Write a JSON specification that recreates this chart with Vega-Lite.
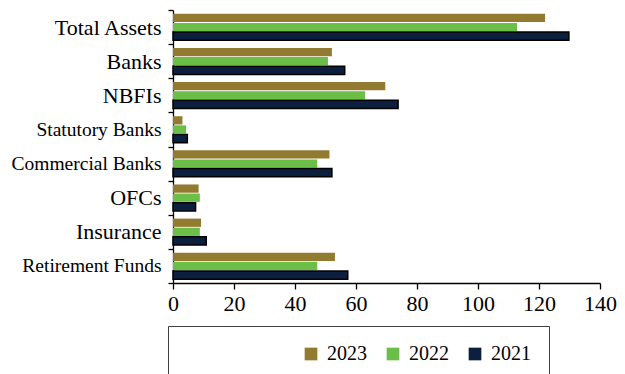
{
  "$schema": "https://vega.github.io/schema/vega-lite/v6.json",
  "width": 427,
  "height": 273,
  "autosize": {"type": "none"},
  "padding": {"left": 173, "top": 10, "right": 25, "bottom": 91},
  "background": "white",
  "config": {
    "font": "Liberation Serif",
    "view": {"stroke": null},
    "axis": {"labelFont": "Liberation Serif"},
    "legend": {"labelFont": "Liberation Serif", "titleFont": "Liberation Serif"}
  },
  "data": {
    "values": [
      {"category": "Total Assets", "year": "2023", "value": 122.0},
      {"category": "Total Assets", "year": "2022", "value": 112.8},
      {"category": "Total Assets", "year": "2021", "value": 129.8},
      {"category": "Banks", "year": "2023", "value": 52.1},
      {"category": "Banks", "year": "2022", "value": 50.8},
      {"category": "Banks", "year": "2021", "value": 56.3},
      {"category": "NBFIs", "year": "2023", "value": 69.6},
      {"category": "NBFIs", "year": "2022", "value": 63.0},
      {"category": "NBFIs", "year": "2021", "value": 73.8},
      {"category": "Statutory Banks", "year": "2023", "value": 3.1},
      {"category": "Statutory Banks", "year": "2022", "value": 4.3},
      {"category": "Statutory Banks", "year": "2021", "value": 4.7},
      {"category": "Commercial Banks", "year": "2023", "value": 51.3},
      {"category": "Commercial Banks", "year": "2022", "value": 47.3},
      {"category": "Commercial Banks", "year": "2021", "value": 52.1},
      {"category": "OFCs", "year": "2023", "value": 8.4},
      {"category": "OFCs", "year": "2022", "value": 8.8},
      {"category": "OFCs", "year": "2021", "value": 7.4},
      {"category": "Insurance", "year": "2023", "value": 9.2},
      {"category": "Insurance", "year": "2022", "value": 8.8},
      {"category": "Insurance", "year": "2021", "value": 10.9},
      {"category": "Retirement Funds", "year": "2023", "value": 53.1},
      {"category": "Retirement Funds", "year": "2022", "value": 47.3},
      {"category": "Retirement Funds", "year": "2021", "value": 57.3}
    ]
  },
  "mark": {"type": "bar", "stroke": "black"},
  "encoding": {
    "y": {
      "field": "category",
      "type": "nominal",
      "sort": ["Total Assets", "Banks", "NBFIs", "Statutory Banks", "Commercial Banks", "OFCs", "Insurance", "Retirement Funds"],
      "scale": {"paddingInner": 0, "paddingOuter": 0},
      "axis": {
        "title": null,
        "tickBand": "extent",
        "grid": false,
        "domainColor": "black",
        "domainWidth": 1.3,
        "tickColor": "black",
        "tickWidth": 1.3,
        "tickSize": 5,
        "labelPadding": 7,
        "labelColor": "black",
        "labelFont": "Liberation Serif",
        "labelFontSize": {"condition": {"test": "indexof(['Statutory Banks','Commercial Banks','Retirement Funds'], datum.value) >= 0", "value": 19.5}, "value": 22}
      }
    },
    "x": {
      "field": "value",
      "type": "quantitative",
      "scale": {"domain": [0, 140], "nice": false},
      "axis": {
        "title": null,
        "values": [0, 20, 40, 60, 80, 100, 120, 140],
        "grid": false,
        "domainColor": "black",
        "domainWidth": 1.3,
        "tickColor": "black",
        "tickWidth": 1.3,
        "tickSize": 6,
        "labelPadding": 4,
        "labelFont": "Liberation Serif",
        "labelFontSize": 22,
        "labelColor": "black",
        "labelFlush": false,
        "labelOverlap": false
      }
    },
    "yOffset": {
      "field": "year",
      "type": "nominal",
      "sort": ["2023", "2022", "2021"],
      "scale": {"paddingInner": 0.09, "paddingOuter": 0.42}
    },
    "fill": {
      "field": "year",
      "type": "nominal",
      "sort": ["2023", "2022", "2021"],
      "scale": {"domain": ["2023", "2022", "2021"], "range": ["#927B31", "#6BBE47", "#0C1F3F"]},
      "legend": {
        "title": "\u00a0",
        "titleOrient": "left",
        "titleFontSize": 10,
        "titlePadding": 115,
        "orient": "none",
        "legendX": -5,
        "legendY": 316,
        "direction": "horizontal",
        "symbolType": "square",
        "symbolSize": 161,
        "symbolStrokeWidth": 0,
        "labelFont": "Liberation Serif",
        "labelFontSize": 20,
        "labelColor": "black",
        "labelOffset": 6,
        "columnPadding": 16,
        "padding": 18,
        "strokeColor": "#404040",
        "fillColor": "white",
        "labelExpr": "datum.label == '2021' ? '2021\u00a0\u00a0\u00a0\u00a0\u00a0\u00a0\u00a0\u00a0\u00a0\u00a0\u00a0\u00a0\u00a0' : datum.label"
      }
    },
    "strokeWidth": {"condition": {"test": "datum.year == '2021'", "value": 1.5}, "value": 0}
  }
}
